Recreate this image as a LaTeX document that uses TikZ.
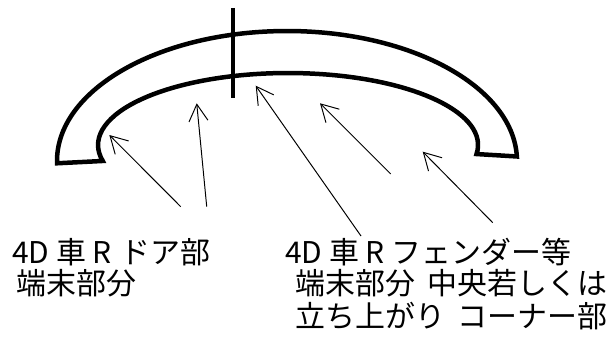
\documentclass[tikz,border=0pt]{standalone}
\usepackage{xcolor}
\usepackage{fontspec}
\setmainfont{Noto Sans CJK JP}
\usepackage{tikz}
\usetikzlibrary{arrows.meta}

\begin{document}
\begin{tikzpicture}[fender/.style={line width=3.2pt,line join=miter},
                    pointer/.style={line width=0.7pt,-{Straight Barb[length=12pt,width=13.5pt]}},
                    txt/.style={inner sep=0pt,anchor=base west,font=\fontsize{21.3}{25}\selectfont}]
                    \useasboundingbox (0,0) rectangle (15.35,8.45);

                    \draw[fender] (1.426,4.368) arc[start angle=181,end angle=2,x radius=5.75,y radius=3.25]
                        -- (11.913,4.599) arc[start angle=-7.2,end angle=192.8,x radius=4.75,y radius=1.8] -- cycle;
                    \draw[line width=3.3pt] (5.825,8.25) -- (5.825,6.0);

                    \coordinate (tA) at (4.518,3.283);
                    \coordinate (hA) at (2.733,5.075);
                    \coordinate (tB) at (5.168,3.283);
                    \coordinate (hB) at (4.918,5.868);
                    \coordinate (tC) at (9.025,2.55);
                    \coordinate (hC) at (6.393,6.308);
                    \coordinate (tD) at (9.768,4.1);
                    \coordinate (hD) at (8.0,5.868);
                    \coordinate (tE) at (12.318,2.883);
                    \coordinate (hE) at (10.568,4.658);

                    \draw[pointer] (tA) -- (hA);
                    \draw[pointer] (tB) -- (hB);
                    \draw[pointer] (tC) -- (hC);
                    \draw[pointer] (tD) -- (hD);
                    \draw[pointer] (tE) -- (hE);

                    \node[txt] (dA) at (0.3,1.875) {4D 車 R\hspace{0.3em}ドア部};
                    \node[txt] (dB) at (0.41,1.1) {端末部分};
                    \node[txt] (fA) at (7.125,1.875) {4D 車 R フェンダー等};
                    \node[txt] (fB) at (7.39,1.1) {端末部分\hspace{0.4em}中央若しくは};
                    \node[txt] (fC) at (7.39,0.275) {立ち上がり\hspace{0.4em}コーナー部};
                \end{tikzpicture}
\end{document}
